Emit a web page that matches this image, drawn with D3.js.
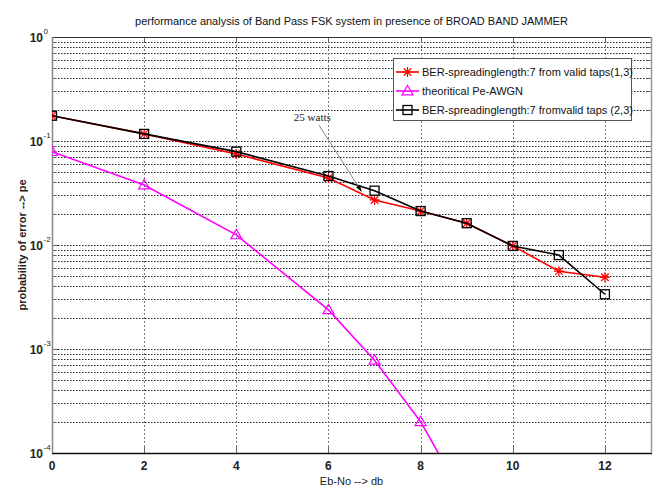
<!DOCTYPE html>
<html>
<head>
<meta charset="utf-8">
<script src="https://cdn.jsdelivr.net/npm/d3@7"></script>
<style>
  html, body { margin: 0; padding: 0; background: #fff; }
  svg { display: block; }
  text { font-family: "Liberation Sans", Arial, sans-serif; }
</style>
</head>
<body>
<svg id="chart" width="657" height="488"></svg>
<script>
// Eb/No (dB) sample points
const ebnoMeasured = [0, 2, 4, 6, 7, 8, 9, 10, 11, 12];
const ebnoTheory = [0, 2, 4, 6, 7, 8, 9];

// BER with spreading length 7, valid taps (1,3)
const berTaps13 = [0.175, 0.117, 0.075, 0.044, 0.0271, 0.0212, 0.0162, 0.0098, 0.0056, 0.0049];
// Theoretical Pe in AWGN
const peAwgn = [0.0790, 0.0378, 0.0125, 0.00238, 0.00078, 0.00020, 0.000033];
// BER with spreading length 7, valid taps (2,3)
const berTaps23 = [0.175, 0.117, 0.079, 0.046, 0.0333, 0.0212, 0.0162, 0.0098, 0.0080, 0.00336];

const xTicks = [0, 2, 4, 6, 8, 10, 12];
const yDecades = [-4, -3, -2, -1, 0];

const legendLabels = [
  "BER-spreadinglength:7 from valid taps(1,3)",
  "theoritical Pe-AWGN",
  "BER-spreadinglength:7 fromvalid taps (2,3)"
];

// Annotation: label position and arrow from/to, in data units
const noteText = "25 watts";
const notePos = [5.65, 0.155];
const noteArrowFrom = [5.79, 0.143];
const noteArrowTo = [6.72, 0.0326];

const svg = d3.select("#chart");
const pLeft = 52, pRight = 651, pTop = 37, pBottom = 453;

const x = d3.scaleLinear().domain([0, 13]).range([pLeft, pRight]);
const y = d3.scaleLog().domain([1e-4, 1]).range([pBottom, pTop]);

const defs = svg.append("defs");
defs.append("clipPath").attr("id", "plotClip")
  .append("rect").attr("x", pLeft).attr("y", pTop)
  .attr("width", pRight - pLeft).attr("height", pBottom - pTop);

// Grid: horizontal lines at every log tick (major and minor)
const yGridVals = [];
yDecades.forEach(d => {
  for (let m = 1; m <= 9; m++) {
    const v = m * Math.pow(10, d);
    if (v <= 1) yGridVals.push(v);
  }
});

const grid = svg.append("g");
grid.selectAll("line.hg").data(yGridVals.filter(v => v > 1e-4 && v < 1)).join("line")
  .attr("x1", pLeft).attr("x2", pRight)
  .attr("y1", d => Math.round(y(d)) + 0.5).attr("y2", d => Math.round(y(d)) + 0.5)
  .attr("stroke", "#222").attr("stroke-width", 1)
  .attr("stroke-dasharray", "1.5,1.5");

grid.selectAll("line.vg").data(xTicks.filter(v => v > 0)).join("line")
  .attr("x1", d => Math.round(x(d)) + 0.5).attr("x2", d => Math.round(x(d)) + 0.5)
  .attr("y1", pTop).attr("y2", pBottom)
  .attr("stroke", "#777").attr("stroke-width", 1)
  .attr("stroke-dasharray", "2,2");

// Tick marks (inside the box)
const ticks = svg.append("g").attr("stroke", "#666").attr("stroke-width", 1);
xTicks.forEach(v => {
  const px = Math.round(x(v)) + 0.5;
  ticks.append("line").attr("x1", px).attr("x2", px).attr("y1", pBottom).attr("y2", pBottom - 6);
  ticks.append("line").attr("x1", px).attr("x2", px).attr("y1", pTop).attr("y2", pTop + 6);
});
yGridVals.forEach(v => {
  const py = Math.round(y(v)) + 0.5;
  const len = (Math.abs(Math.log10(v) - Math.round(Math.log10(v))) < 1e-9) ? 6 : 4;
  ticks.append("line").attr("x1", pLeft).attr("x2", pLeft + len).attr("y1", py).attr("y2", py);
  ticks.append("line").attr("x1", pRight).attr("x2", pRight - len).attr("y1", py).attr("y2", py);
});

// Axes box
const box = svg.append("g").attr("fill", "none");
box.append("line").attr("x1", pLeft).attr("x2", pRight).attr("y1", pTop + 0.5).attr("y2", pTop + 0.5).attr("stroke", "#333");
box.append("line").attr("x1", pLeft).attr("x2", pRight + 1).attr("y1", pBottom + 0.5).attr("y2", pBottom + 0.5).attr("stroke", "#111").attr("stroke-width", 1.5);
box.append("line").attr("x1", pLeft + 0.5).attr("x2", pLeft + 0.5).attr("y1", pTop).attr("y2", pBottom).attr("stroke", "#888").attr("stroke-width", 1.5);
box.append("line").attr("x1", pRight + 0.5).attr("x2", pRight + 0.5).attr("y1", pTop).attr("y2", pBottom).attr("stroke", "#999").attr("stroke-width", 1.5);

// X tick labels
svg.append("g").selectAll("text").data(xTicks).join("text")
  .attr("x", d => x(d)).attr("y", 470)
  .attr("text-anchor", "middle").attr("font-size", 12).attr("font-weight", "bold")
  .attr("fill", "#222").text(d => d);

// Y tick labels: 10 with superscript exponent
const yl = svg.append("g").attr("fill", "#222");
yDecades.forEach(d => {
  const py = y(Math.pow(10, d));
  yl.append("text").attr("x", 43).attr("y", py + 5)
    .attr("text-anchor", "end").attr("font-size", 12).attr("font-weight", "bold").text("10");
  yl.append("text").attr("x", 43.5).attr("y", py - 3)
    .attr("font-size", 8).text(d);
});

// Title and axis labels
svg.append("text").attr("x", (pLeft + pRight) / 2).attr("y", 25)
  .attr("text-anchor", "middle").attr("font-size", 11).attr("fill", "#111")
  .text("performance analysis of Band Pass FSK system in presence of BROAD BAND JAMMER");
svg.append("text").attr("x", (pLeft + pRight) / 2).attr("y", 485)
  .attr("text-anchor", "middle").attr("font-size", 11).attr("fill", "#222")
  .text("Eb-No --> db");
svg.append("text").attr("transform", `translate(26,${(pTop + pBottom) / 2}) rotate(-90)`)
  .attr("text-anchor", "middle").attr("font-size", 11).attr("font-weight", "bold").attr("fill", "#222")
  .text("probability of error --> pe");

// Marker shapes
function drawStar(g, px, py, color) {
  const r = 5;
  const path = `M${px - r},${py}L${px + r},${py}M${px},${py - r}L${px},${py + r}` +
    `M${px - r * 0.75},${py - r * 0.75}L${px + r * 0.75},${py + r * 0.75}` +
    `M${px - r * 0.75},${py + r * 0.75}L${px + r * 0.75},${py - r * 0.75}`;
  g.append("path").attr("d", path).attr("stroke", color).attr("stroke-width", 1.2).attr("fill", "none");
}
function drawTriangle(g, px, py, color) {
  const r = 5.5;
  g.append("path").attr("d", `M${px},${py - r}L${px + r},${py + r * 0.7}L${px - r},${py + r * 0.7}Z`)
    .attr("stroke", color).attr("stroke-width", 1.2).attr("fill", "none");
}
function drawSquare(g, px, py, color) {
  const r = 4.5;
  g.append("rect").attr("x", px - r).attr("y", py - r).attr("width", 2 * r).attr("height", 2 * r)
    .attr("stroke", color).attr("stroke-width", 1.3).attr("fill", "none");
}

const plot = svg.append("g").attr("clip-path", "url(#plotClip)");
const line = d3.line().x(d => x(d[0])).y(d => y(d[1]));

const series = [
  { xs: ebnoMeasured, ys: berTaps13, color: "#ff0000", marker: drawStar },
  { xs: ebnoTheory, ys: peAwgn, color: "#ff00ff", marker: drawTriangle },
  { xs: ebnoMeasured, ys: berTaps23, color: "#000000", marker: drawSquare }
];

series.forEach(s => {
  const pts = s.xs.map((v, i) => [v, s.ys[i]]);
  plot.append("path").datum(pts).attr("d", line)
    .attr("fill", "none").attr("stroke", s.color).attr("stroke-width", 1.6);
  const mg = plot.append("g");
  pts.forEach(p => {
    if (p[1] >= 1e-4) s.marker(mg, x(p[0]), y(p[1]), s.color);
  });
});

// Annotation with arrow
defs.append("marker").attr("id", "arrowHead")
  .attr("viewBox", "0 0 10 10").attr("refX", 10).attr("refY", 5)
  .attr("markerWidth", 7).attr("markerHeight", 7).attr("orient", "auto")
  .append("path").attr("d", "M0,1.5L10,5L0,8.5Z").attr("fill", "#000");
svg.append("line")
  .attr("x1", x(noteArrowFrom[0])).attr("y1", y(noteArrowFrom[1]))
  .attr("x2", x(noteArrowTo[0])).attr("y2", y(noteArrowTo[1]))
  .attr("stroke", "#888").attr("stroke-width", 1)
  .attr("marker-end", "url(#arrowHead)");
svg.append("text").attr("x", x(notePos[0])).attr("y", y(notePos[1]))
  .attr("text-anchor", "middle")
  .style("font-family", "'Liberation Serif', 'Times New Roman', serif")
  .attr("font-size", 11).attr("fill", "#222").text(noteText);

// Legend
const lg = svg.append("g");
const lgX = 393, lgY = 58, lgW = 238, lgH = 62;
lg.append("rect").attr("x", lgX + 0.5).attr("y", lgY + 0.5).attr("width", lgW).attr("height", lgH)
  .attr("fill", "#fff").attr("stroke", "#555").attr("stroke-width", 1);
series.forEach((s, i) => {
  const cy = lgY + 14 + i * 19;
  lg.append("line").attr("x1", lgX + 3).attr("x2", lgX + 26).attr("y1", cy).attr("y2", cy)
    .attr("stroke", s.color).attr("stroke-width", 1.6);
  s.marker(lg, lgX + 14.5, cy, s.color);
  lg.append("text").attr("x", lgX + 29).attr("y", cy + 4)
    .attr("font-size", 11).attr("fill", "#111").text(legendLabels[i]);
});
</script>
</body>
</html>
